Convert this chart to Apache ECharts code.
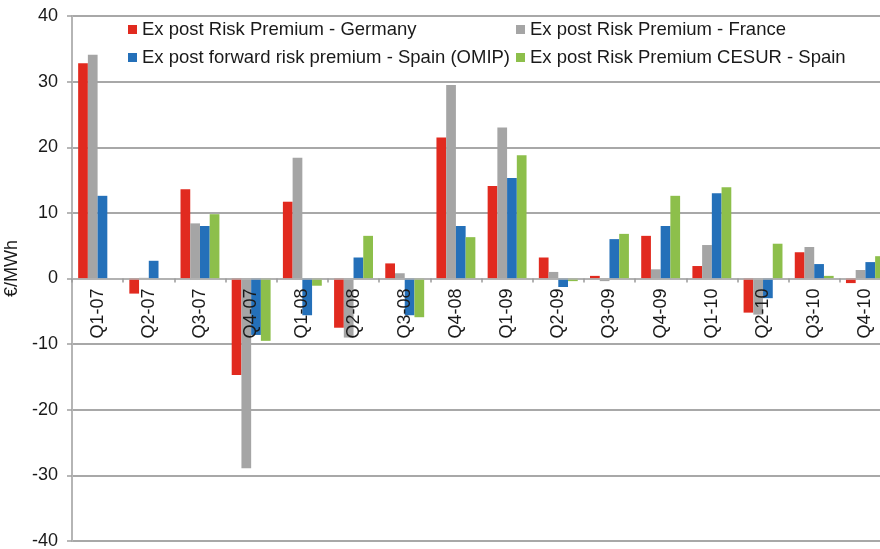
<!DOCTYPE html>
<html>
<head>
<meta charset="utf-8">
<script src="https://cdn.jsdelivr.net/npm/echarts@6/dist/echarts.min.js"></script>
<style>
html,body{margin:0;padding:0;background:#fff;}
#chart{width:880px;height:549px;}
</style>
</head>
<body>
<div id="chart"></div>
<script>
const categories = ['Q1-07','Q2-07','Q3-07','Q4-07','Q1-08','Q2-08','Q3-08','Q4-08','Q1-09','Q2-09','Q3-09','Q4-09','Q1-10','Q2-10','Q3-10','Q4-10'];
const germany = [32.8, -2.3, 13.6, -14.7, 11.7, -7.5, 2.3, 21.5, 14.1, 3.2, 0.4, 6.5, 1.9, -5.2, 4.0, -0.7];
const france  = [34.1, 0.1, 8.4, -28.9, 18.4, -9.0, 0.8, 29.5, 23.0, 1.0, -0.4, 1.4, 5.1, -5.5, 4.8, 1.3];
const omip    = [12.6, 2.7, 8.0, -8.6, -5.6, 3.2, -5.6, 8.0, 15.3, -1.3, 6.0, 8.0, 13.0, -3.0, 2.2, 2.5];
const cesur   = [null, null, 9.8, -9.5, -1.1, 6.5, -5.9, 6.3, 18.8, -0.4, 6.8, 12.6, 13.9, 5.3, 0.4, 3.4];
const seriesNames = ['Ex post Risk Premium - Germany','Ex post Risk Premium - France','Ex post forward risk premium - Spain (OMIP)','Ex post Risk Premium CESUR - Spain'];
const yTicks = {min: -40, max: 40, interval: 10};

const colors = ['#e12a1f', '#a5a5a5', '#2470b9', '#8dbf4b'];
const font = '"Liberation Sans", Arial, Helvetica, sans-serif';
const gridTop = 16, gridHeight = 525;
const chart = echarts.init(document.getElementById('chart'), null, {renderer: 'canvas'});
const legendText = {fontSize: 18.5, color: '#1a1a1a', fontFamily: font};
const legendCommon = {orient: 'vertical', icon: 'rect', itemWidth: 9, itemHeight: 9, itemGap: 9, top: 20, padding: 0, textStyle: legendText};
// distance from grid bottom to the zero line, derived from the value range
const zeroOffset = gridHeight * (0 - yTicks.min) / (yTicks.max - yTicks.min);
chart.setOption({
  animation: false,
  color: colors,
  textStyle: {fontFamily: font},
  legend: [
    Object.assign({left: 128, data: [seriesNames[0], seriesNames[2]]}, legendCommon),
    Object.assign({left: 516, data: [seriesNames[1], seriesNames[3]]}, legendCommon)
  ],
  grid: {left: 72, top: gridTop, width: 819, height: gridHeight, containLabel: false, outerBoundsMode: 'none'},
  xAxis: {
    type: 'category',
    data: categories,
    z: 5,
    position: 'bottom',
    offset: -zeroOffset,
    axisLine: {onZero: false, lineStyle: {color: '#b5b5b5', width: 1.5}},
    axisTick: {show: true, length: 4, alignWithLabel: false, lineStyle: {color: '#9a9a9a', width: 1.5}},
    axisLabel: {rotate: 90, fontSize: 18, color: '#1a1a1a', margin: 10, fontFamily: font, interval: 0},
    splitLine: {show: false}
  },
  yAxis: {
    type: 'value',
    min: yTicks.min, max: yTicks.max, interval: yTicks.interval,
    name: '€/MWh',
    nameLocation: 'middle',
    nameGap: 43,
    nameRotate: 90,
    nameTextStyle: {fontSize: 18, color: '#1a1a1a', fontFamily: font, padding: [0, 0, 0, 20]},
    axisLine: {show: true, lineStyle: {color: '#b5b5b5', width: 2}},
    axisTick: {show: true, length: 5, lineStyle: {color: '#a0a0a0', width: 1.5}},
    axisLabel: {fontSize: 18, color: '#1a1a1a', margin: 14, fontFamily: font},
    splitLine: {show: true, lineStyle: {color: '#a8a8a8', width: 2}}
  },
  series: [
    {name: seriesNames[0], type: 'bar', data: germany, barGap: '0%', barCategoryGap: '24%'},
    {name: seriesNames[1], type: 'bar', data: france, barGap: '0%', barCategoryGap: '24%'},
    {name: seriesNames[2], type: 'bar', data: omip, barGap: '0%', barCategoryGap: '24%'},
    {name: seriesNames[3], type: 'bar', data: cesur, barGap: '0%', barCategoryGap: '24%'}
  ]
});
</script>
</body>
</html>
